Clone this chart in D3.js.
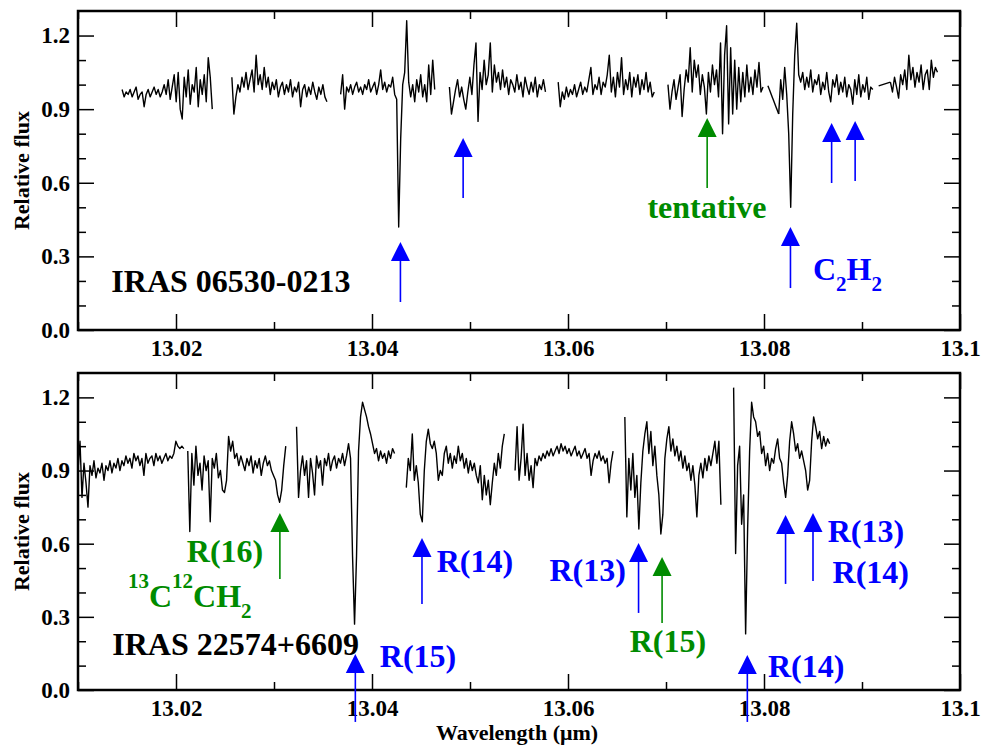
<!DOCTYPE html>
<html>
<head>
<meta charset="utf-8">
<script src="https://cdn.jsdelivr.net/npm/d3@7"></script>
<style>
    body { margin: 0; background: #fff; }
    svg { display: block; }
    text { font-family: "Liberation Serif", "Times New Roman", serif; font-weight: bold; }
</style>
</head>
<body>
<svg id="chart" width="988" height="748"></svg>
<script>
// axis ticks
const xMajor = [13.02, 13.04, 13.06, 13.08, 13.1];
const xMinor = [13.01, 13.03, 13.05, 13.07, 13.09];
const yMajor = [0, 0.3, 0.6, 0.9, 1.2];
const yMinor = [0.1, 0.2, 0.4, 0.5, 0.7, 0.8, 1.0, 1.1];

// IRAS 06530-0213: wavelength range of each chunk, flux evenly sampled inside it
const topRange = [
    [13.0145, 13.0237], [13.0257, 13.0354], [13.0368, 13.0464], [13.0479, 13.0577],
    [13.0590, 13.0688], [13.0702, 13.0799], [13.0804, 13.0815], [13.0815, 13.0911],
    [13.0917, 13.0929], [13.0929, 13.0977]
];
const topFlux = [
    [0.98, 0.95, 0.97, 0.96, 0.98, 0.95, 0.97, 0.99, 0.94, 0.96,
     0.97, 0.91, 0.96, 0.98, 0.95, 0.97, 0.99, 0.96, 0.98, 0.95,
     0.97, 1.00, 0.96, 1.02, 0.94, 0.99, 1.04, 0.93, 1.05, 0.90,
     0.86, 1.03, 0.95, 1.06, 0.92, 1.00, 0.97, 1.07, 0.91, 1.02,
     0.96, 1.04, 0.93, 1.11, 1.03, 0.90],
    [1.03, 0.88, 0.95, 1.00, 0.97, 1.03, 0.99, 1.05, 0.98, 1.02,
     1.06, 0.97, 1.12, 1.00, 1.04, 0.98, 1.07, 0.99, 1.03, 0.96,
     1.01, 0.98, 1.02, 0.95, 0.99, 1.01, 0.96, 1.00, 0.97, 1.02,
     0.95, 0.99, 0.97, 1.01, 0.91, 0.98, 1.00, 0.95, 0.99, 0.96,
     1.01, 0.97, 0.94, 0.99, 0.96, 1.00, 0.95, 0.93],
    [0.96, 1.04, 0.90, 0.99, 0.97, 1.00, 0.96, 0.99, 1.01, 0.97,
     0.99, 0.96, 1.00, 0.98, 1.02, 0.97, 0.99, 1.01, 0.96, 1.00,
     1.06, 0.98, 1.01, 0.97, 1.00, 0.99, 1.03, 0.96, 0.94,
     0.42, 0.78, 1.00, 1.05, 1.26, 1.01, 0.95,
     1.00, 0.93, 1.02, 0.97, 1.04, 0.95, 1.00, 0.93, 1.08, 0.96, 1.10, 0.98],
    [0.99, 0.88, 0.93, 0.98, 1.02, 0.95, 0.99, 0.94, 0.90, 0.97,
     1.03, 0.96, 1.08, 1.17, 0.85, 1.05, 0.98, 1.10, 1.00, 1.04,
     1.17, 0.97, 1.08, 1.01, 1.05, 0.98, 1.06, 0.99, 1.03, 0.96,
     1.02, 1.00, 0.97, 1.04, 0.98, 1.01, 0.95, 1.03, 0.99, 0.96,
     1.01, 0.97, 1.03, 0.95, 1.00, 0.98, 1.02, 0.97],
    [1.01, 0.91, 0.97, 0.94, 0.99, 0.95, 0.98, 0.96, 1.00, 0.95,
     0.98, 1.01, 0.96, 0.99, 0.97, 1.02, 1.07, 0.96, 1.00, 0.98,
     1.03, 0.96, 1.01, 0.99, 1.04, 1.12, 0.97, 1.03, 0.95, 1.05,
     0.99, 1.11, 0.96, 1.02, 0.98, 1.05, 0.95, 1.03, 0.99, 1.04,
     0.96, 1.02, 0.98, 1.05, 0.97, 1.01, 0.95, 0.97],
    [1.00, 0.90, 0.97, 1.02, 0.94, 0.99, 1.04, 0.87, 0.98, 1.06,
     1.01, 1.15, 0.97, 1.10, 1.03, 1.08, 0.96, 1.04, 0.99, 0.88,
     1.05, 0.97, 1.08, 1.00, 1.06, 0.95, 1.17, 0.80, 1.12, 1.24,
     0.84, 1.15, 0.88, 1.10, 0.90, 1.07, 0.93, 1.05, 0.95, 1.08,
     0.97, 1.03, 0.96, 1.06, 0.99, 1.09, 0.97, 0.99],
    [0.995, 0.88],
    [0.88, 1.02, 0.94, 1.07, 0.96, 0.80, 0.50, 0.88, 1.12, 1.25,
     1.04, 1.01, 1.05, 0.98, 1.03, 0.99, 1.06, 0.97, 1.02, 1.00,
     1.04, 0.96, 1.01, 0.98, 1.05, 0.97, 0.93, 1.02, 0.99, 1.04,
     0.96, 1.01, 0.97, 1.03, 0.95, 1.00, 0.98, 0.92, 1.02, 0.96,
     1.04, 0.95, 1.00, 0.97, 1.03, 0.94, 0.99, 0.98],
    [0.995, 1.01],
    [1.01, 0.97, 1.03, 0.99, 0.945, 1.04, 1.00, 1.06, 0.98, 1.12,
     1.02, 1.07, 0.99, 1.05, 1.01, 1.08, 0.98, 1.04, 1.06, 0.98,
     1.10, 1.03, 1.07, 1.05]
];

// IRAS 22574+6609
const botRange = [
    [13.0100, 13.0208], [13.0212, 13.0312], [13.0323, 13.0423], [13.0435, 13.0535],
    [13.0546, 13.0646], [13.0658, 13.0756], [13.0769, 13.0867]
];
const botFlux = [
    [0.90, 1.02, 0.79, 0.93, 0.85, 0.75, 0.92, 0.88, 0.94, 0.87,
     0.91, 0.89, 0.93, 0.86, 0.92, 0.90, 0.94, 0.89, 0.93, 0.91,
     0.95, 0.90, 0.94, 0.92, 0.96, 0.93, 0.95, 0.91, 0.97, 0.94,
     0.96, 0.92, 0.95, 0.88, 0.97, 0.93, 0.95, 0.96, 0.92, 0.97,
     0.94, 0.96, 0.93, 0.95, 0.97, 0.94, 0.96, 0.95, 0.97, 1.02,
     1.00, 0.99, 1.00, 0.99],
    [0.98, 0.65, 0.97, 0.84, 1.00, 0.88, 0.93, 0.82, 0.96, 0.90,
     0.94, 0.69, 0.95, 0.91, 0.97, 0.87, 0.90, 0.82, 0.81, 0.86,
     1.04, 0.98, 1.02, 0.95, 0.97, 0.92, 0.96, 0.93, 0.90, 0.95,
     0.92, 0.96, 0.89, 0.94, 0.91, 0.95, 0.88, 0.93, 0.96, 0.92,
     0.94, 0.90, 0.88, 0.86, 0.80, 0.77, 0.82, 0.92, 1.00],
    [1.08, 0.79, 0.90, 0.96, 0.88, 0.94, 0.79, 0.95, 0.89, 0.80,
     0.96, 0.91, 0.94, 0.84, 0.95, 0.92, 0.97, 0.90, 0.94, 0.96,
     0.91, 0.95, 0.93, 0.97, 0.92, 0.96, 1.01, 0.95, 0.55, 0.27,
     0.55, 0.98, 1.12, 1.18, 1.15, 1.12, 1.08, 1.05, 1.01, 0.97,
     0.99, 0.94, 0.98, 0.95, 0.97, 0.93, 0.98, 0.95, 0.99, 0.97],
    [0.83, 0.95, 0.90, 1.05, 0.86, 0.92, 0.85, 0.72, 0.69, 0.90,
     1.02, 1.07, 1.01, 0.99, 1.02, 0.97, 0.86, 0.90, 0.88, 0.97,
     1.00, 0.93, 0.97, 0.91, 0.96, 0.93, 1.00, 0.94, 0.97, 0.91,
     0.95, 0.89, 0.94, 0.90, 0.93, 0.88, 0.85, 0.92, 0.78, 0.88,
     0.80, 0.86, 0.76, 0.85, 0.93, 0.88, 0.97, 0.91, 1.00, 1.05],
    [0.90, 1.08, 0.86, 0.95, 1.09, 0.88, 0.97, 0.86, 0.92, 0.83,
     0.95, 0.92, 0.96, 0.94, 0.97, 0.95, 0.98, 0.96, 0.99, 0.96,
     0.98, 1.00, 0.97, 1.01, 0.98, 1.00, 0.97, 0.99, 0.96, 0.98,
     1.00, 0.96, 0.98, 0.95, 0.97, 0.99, 0.95, 0.97, 0.88, 0.94,
     0.97, 0.95, 0.98, 0.94, 0.96, 0.93, 0.95, 0.85, 0.93, 0.98],
    [1.12, 0.71, 0.95, 0.82, 0.97, 0.79, 0.88, 0.66, 0.85, 0.98,
     1.05, 1.10, 0.97, 1.06, 0.92, 1.00, 0.88, 0.80, 0.64, 0.72,
     0.95, 1.03, 1.08, 0.98, 1.03, 0.96, 1.00, 0.94, 0.98, 0.91,
     0.96, 0.90, 0.93, 0.86, 0.92, 0.84, 0.71, 0.88, 0.93, 0.87,
     0.95, 0.90, 0.96, 0.92, 0.97, 1.02, 0.93, 1.02, 0.76],
    [1.24, 0.56, 0.92, 1.00, 0.68, 0.80, 0.23, 0.66, 0.98, 1.18,
     1.12, 1.10, 1.04, 1.06, 0.97, 1.00, 0.92, 0.97, 0.90, 0.95,
     0.93, 0.99, 1.03, 0.95, 0.93, 0.85, 0.79, 0.88, 1.02, 1.10,
     1.05, 0.98, 1.01, 0.95, 0.98, 0.94, 0.90, 0.82, 0.86, 1.02,
     1.12, 1.08, 1.03, 1.06, 0.99, 1.04, 1.00, 1.03, 1.01]
];

// line identification arrows: wavelength, flux at the tip, flux at the tail
const topArrowW = [13.0429, 13.0493, 13.0742, 13.0827, 13.0869, 13.0893];
const topArrowTip = [0.359, 0.782, 0.864, 0.42, 0.844, 0.852];
const topArrowTail = [0.114, 0.538, 0.579, 0.171, 0.599, 0.607];
const topArrowKind = ["main", "main", "tentative", "main", "main", "main"];

const botArrowW = [13.0306, 13.0383, 13.0451, 13.0672, 13.0696, 13.0783, 13.0822, 13.0850];
const botArrowTip = [0.726, 0.148, 0.623, 0.603, 0.545, 0.1435, 0.718, 0.726];
const botArrowTail = [0.455, -0.131, 0.353, 0.316, 0.275, -0.131, 0.435, 0.447];
const botArrowKind = ["isotope", "main", "main", "main", "isotope", "main", "main", "main"];

// labels (anchored at start of the text, baseline at the given flux)
const topLabelText = ["IRAS 06530-0213", "tentative", "C_{2}H_{2}"];
const topLabelW = [13.0134, 13.0681, 13.0850];
const topLabelF = [0.155, 0.456, 0.204];
const topLabelKind = ["source", "tentative", "main"];

const botLabelText = ["R(16)", "^{13}C^{12}CH_{2}", "IRAS 22574+6609", "R(15)", "R(14)",
    "R(13)", "R(15)", "R(14)", "R(13)", "R(14)"];
const botLabelW = [13.0211, 13.0151, 13.0135, 13.0408, 13.0466, 13.0581, 13.0663, 13.0804, 13.0865, 13.0870];
const botLabelF = [0.525, 0.340, 0.1435, 0.094, 0.484, 0.447, 0.156, 0.053, 0.607, 0.439];
const botLabelKind = ["isotope", "isotope", "source", "main", "main", "main", "isotope", "main", "main", "main"];

const kindColor = { main: "#0000ff", tentative: "#008b00", isotope: "#008b00", source: "#000" };

const svg = d3.select("#chart");
const left = 78, right = 960;
const x = d3.scaleLinear().domain([13.01, 13.1]).range([left, right]);

function drawPanel({ top, bottom, ranges, fluxes, arrowW, arrowTip, arrowTail, arrowKind, labelText, labelW, labelF, labelKind }) {
    const y = d3.scaleLinear().domain([0, 1.3]).range([bottom, top]);
    const g = svg.append("g");

    // ticks, all pointing inward
    const tickStyle = sel => {
        sel.select(".domain").remove();
        sel.selectAll(".tick line").attr("stroke", "#000").attr("stroke-width", 1.5);
    };
    g.append("g").attr("transform", `translate(0,${bottom})`)
        .call(d3.axisBottom(x).tickValues(xMajor).tickSize(-16).tickPadding(10)
            .tickFormat(d => String(+d.toFixed(2))))
        .call(tickStyle)
        .selectAll("text").attr("font-size", "23px").attr("fill", "#000")
        .style("font-family", "'Liberation Serif', serif").style("font-weight", "bold");
    g.append("g").attr("transform", `translate(0,${bottom})`)
        .call(d3.axisBottom(x).tickValues(xMinor).tickSize(-8).tickFormat(""))
        .call(tickStyle);
    g.append("g").attr("transform", `translate(0,${top})`)
        .call(d3.axisTop(x).tickValues(xMajor).tickSize(-16).tickFormat(""))
        .call(tickStyle);
    g.append("g").attr("transform", `translate(0,${top})`)
        .call(d3.axisTop(x).tickValues(xMinor).tickSize(-8).tickFormat(""))
        .call(tickStyle);

    g.append("g").attr("transform", `translate(${left},0)`)
        .call(d3.axisLeft(y).tickValues(yMajor).tickSize(-16).tickPadding(8).tickFormat(d3.format(".1f")))
        .call(tickStyle)
        .selectAll("text").attr("font-size", "23px").attr("fill", "#000")
        .style("font-family", "'Liberation Serif', serif").style("font-weight", "bold");
    g.append("g").attr("transform", `translate(${left},0)`)
        .call(d3.axisLeft(y).tickValues(yMinor).tickSize(-8).tickFormat(""))
        .call(tickStyle);
    g.append("g").attr("transform", `translate(${right},0)`)
        .call(d3.axisRight(y).tickValues(yMajor).tickSize(-16).tickFormat(""))
        .call(tickStyle);
    g.append("g").attr("transform", `translate(${right},0)`)
        .call(d3.axisRight(y).tickValues(yMinor).tickSize(-8).tickFormat(""))
        .call(tickStyle);

    g.append("rect")
        .attr("x", left).attr("y", top)
        .attr("width", right - left).attr("height", bottom - top)
        .attr("fill", "none").attr("stroke", "#000").attr("stroke-width", 2.5);

    g.append("text")
        .attr("transform", `translate(24,${(top + bottom) / 2}) rotate(-90)`)
        .attr("text-anchor", "middle").attr("dominant-baseline", "middle")
        .attr("font-size", "22px")
        .text("Relative flux");

    // spectrum chunks
    const line = d3.line().x(d => x(d.w)).y(d => y(d.f));
    const chunks = ranges.map(([w0, w1], k) => fluxes[k].map((f, i, arr) => ({
        w: w0 + (w1 - w0) * i / (arr.length - 1),
        f
    })));
    g.selectAll(".spec")
        .data(chunks)
        .enter()
        .append("path")
        .attr("class", "spec")
        .attr("fill", "none")
        .attr("stroke", "#000")
        .attr("stroke-width", 1.4)
        .attr("stroke-linejoin", "round")
        .attr("d", line);

    // arrows
    arrowW.forEach((w, i) => {
        const c = kindColor[arrowKind[i]];
        const ax = x(w), tipY = y(arrowTip[i]), tailY = y(arrowTail[i]);
        const head = 19;
        g.append("line")
            .attr("x1", ax).attr("x2", ax)
            .attr("y1", tipY + head - 1).attr("y2", tailY)
            .attr("stroke", c).attr("stroke-width", 1.6);
        g.append("path")
            .attr("d", `M${ax},${tipY}L${ax - 9.5},${tipY + head}L${ax + 9.5},${tipY + head}Z`)
            .attr("fill", c);
    });

    // labels with simple sub/superscript markup
    labelText.forEach((t, i) => {
        const txt = g.append("text")
            .attr("x", x(labelW[i])).attr("y", y(labelF[i]))
            .attr("font-size", "32px")
            .attr("fill", kindColor[labelKind[i]]);
        const parts = t.match(/[_^]\{[^}]*\}|[^_^]+/g);
        let shift = 0;
        parts.forEach(p => {
            let dy = 0, size = null, body = p;
            if (p[0] === "_") { dy = 11; size = "21px"; body = p.slice(2, -1); }
            else if (p[0] === "^") { dy = -19; size = "21px"; body = p.slice(2, -1); }
            const span = txt.append("tspan").attr("dy", dy - shift).text(body);
            if (size) span.attr("font-size", size);
            shift = dy;
        });
    });

    return y;
}

drawPanel({
    top: 11, bottom: 330,
    ranges: topRange, fluxes: topFlux,
    arrowW: topArrowW, arrowTip: topArrowTip, arrowTail: topArrowTail, arrowKind: topArrowKind,
    labelText: topLabelText, labelW: topLabelW, labelF: topLabelF, labelKind: topLabelKind
});

drawPanel({
    top: 373, bottom: 690,
    ranges: botRange, fluxes: botFlux,
    arrowW: botArrowW, arrowTip: botArrowTip, arrowTail: botArrowTail, arrowKind: botArrowKind,
    labelText: botLabelText, labelW: botLabelW, labelF: botLabelF, labelKind: botLabelKind
});

svg.append("text")
    .attr("x", (left + right) / 2 - 2).attr("y", 740)
    .attr("text-anchor", "middle")
    .attr("font-size", "22px")
    .text("Wavelength (\u03bcm)");
</script>
</body>
</html>
